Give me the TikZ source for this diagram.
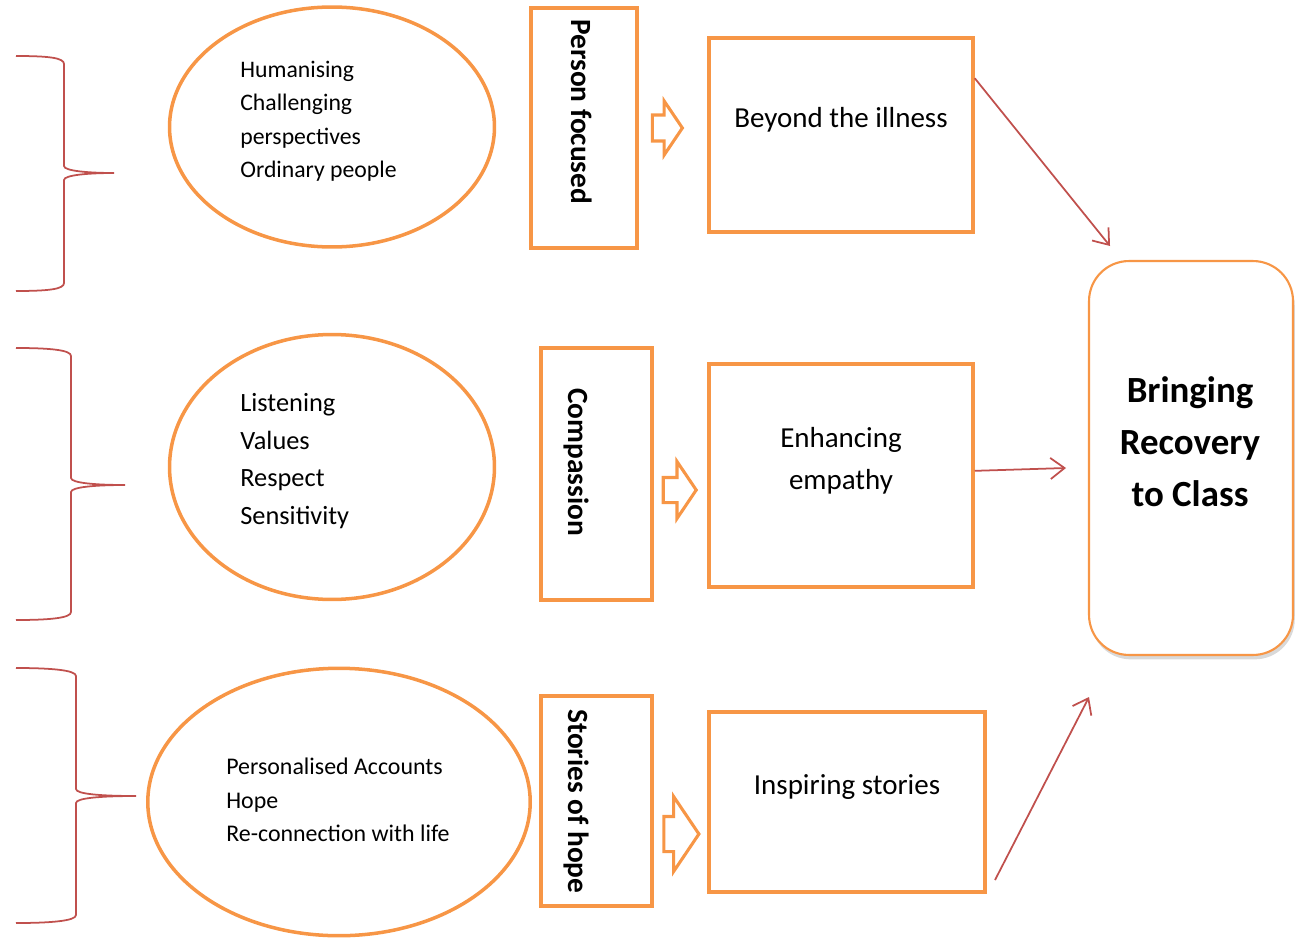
\documentclass[tikz,border=0pt]{standalone}
\usepackage{fontspec}
\setmainfont{Carlito}
\usetikzlibrary{arrows.meta,shapes.geometric,shapes.arrows,shadows}
\definecolor{accent}{HTML}{F79646}
\definecolor{linkred}{HTML}{C0504D}

\begin{document}
\begin{tikzpicture}[x=0.02cm,y=-0.02cm]
\tikzstyle{oval}=[draw=accent, line width=2pt, ellipse, inner sep=0]
\tikzstyle{panel}=[draw=accent, line width=2pt, rectangle, inner sep=0]
\tikzstyle{card}=[draw=accent, line width=2pt, rectangle, inner sep=0]
\tikzstyle{goal}=[draw=accent, line width=1.2pt, rectangle, rounded corners=0.8cm, fill=white,
  drop shadow={shadow xshift=1pt, shadow yshift=-2.5pt, opacity=0.3}]
\tikzstyle{fat}=[single arrow, draw=accent, line width=1.75pt, fill=white, inner xsep=0, single arrow tip angle=112]
\tikzstyle{link}=[linkred, line width=1pt, -{Straight Barb[length=8pt, width=12pt]}]
\tikzstyle{bracket}=[linkred, line width=1pt]
\tikzstyle{bubbletext}=[align=left, anchor=north west, inner sep=0]
\tikzstyle{sidetext}=[rotate=-90, anchor=west, inner sep=0, font=\bfseries\fontsize{16.7}{20}\selectfont]
\useasboundingbox (0,0) rectangle (1300,939);

% braces on the left
\foreach \ya/\bx/\ym/\tx/\yb in {56/64/173/114/291, 348/71/485/125/620, 668/76/796/136/923}
  \draw[bracket] (16,\ya) .. controls (50,\ya) and (\bx,\ya+2) .. (\bx,\ya+8) -- (\bx,\ym-7)
    .. controls (\bx,\ym-2) and (\bx+25,\ym) .. (\tx,\ym)
    .. controls (\bx+25,\ym) and (\bx,\ym+2) .. (\bx,\ym+7) -- (\bx,\yb-8)
    .. controls (\bx,\yb-2) and (50,\yb) .. (16,\yb);

% ovals
\node[oval, minimum width=6.5cm, minimum height=4.8cm] (humanising) at (332,127) {};
\node[oval, minimum width=6.5cm, minimum height=5.3cm] (listening) at (332,467) {};
\node[oval, minimum width=7.65cm, minimum height=5.35cm] (accounts) at (339,802) {};
\node[bubbletext, font=\fontsize{13.5}{18.9}\selectfont] (humanisinglist) at (240,61) {Humanising\\Challenging\\perspectives\\Ordinary people};
\node[bubbletext, font=\fontsize{15}{21.4}\selectfont] (listeninglist) at (240,393) {Listening\\Values\\Respect\\Sensitivity};
\node[bubbletext, font=\fontsize{13.6}{19}\selectfont] (accountslist) at (226,758) {Personalised Accounts\\Hope\\Re-connection with life};

% themes
\node[panel, minimum width=2.12cm, minimum height=4.8cm] (personfocused) at (584,128) {};
\node[panel, minimum width=2.22cm, minimum height=5.04cm] (compassion) at (596.5,474) {};
\node[panel, minimum width=2.22cm, minimum height=4.2cm] (storieshope) at (596.5,801) {};
\node[sidetext] (personfocusedtext) at (582,19) {Person focused};
\node[sidetext] (compassiontext) at (576,388) {Compassion};
\node[sidetext] (storieshopetext) at (576,709) {Stories of hope};

\node[fat, minimum height=0.6cm, inner ysep=0.23cm, single arrow head extend=0.28cm] (fatone) at (663,128) {};
\node[fat, minimum height=0.66cm, inner ysep=0.22cm, single arrow head extend=0.32cm] (fattwo) at (675.5,490) {};
\node[fat, minimum height=0.7cm, inner ysep=0.32cm, single arrow head extend=0.4cm] (fatthree) at (675.5,834) {};

% outcomes
\node[card, minimum width=5.28cm, minimum height=3.88cm] (illness) at (841,135) {};
\node[card, minimum width=5.28cm, minimum height=4.46cm] (empathy) at (841,475.5) {};
\node[card, minimum width=5.52cm, minimum height=3.6cm] (inspiring) at (847,802) {};
\node[font=\fontsize{16.5}{23.8}\selectfont] (illnesstext) at (841,120) {Beyond the illness};
\node[align=center, font=\fontsize{16.5}{23.8}\selectfont] (empathytext) at (841,461) {Enhancing\\empathy};
\node[font=\fontsize{16.5}{23.8}\selectfont] (inspiringtext) at (847,787) {Inspiring stories};

\node[goal, minimum width=4.08cm, minimum height=7.88cm] (recovery) at (1191,458) {};
\node[align=center, font=\bfseries\fontsize{21}{29.5}\selectfont] (recoverytext) at (1190,442) {Bringing\\Recovery\\to Class};

% links to the goal
\coordinate (tipone) at (1110,246);
\coordinate (tiptwo) at (1066,468);
\coordinate (tipthree) at (1089,697);
\coordinate (storyfoot) at (995,880);
\draw[link] (illness.23) -- (tipone);
\draw[link] (empathy.2) -- (tiptwo);
\draw[link] (storyfoot) -- (tipthree);
\end{tikzpicture}
\end{document}
